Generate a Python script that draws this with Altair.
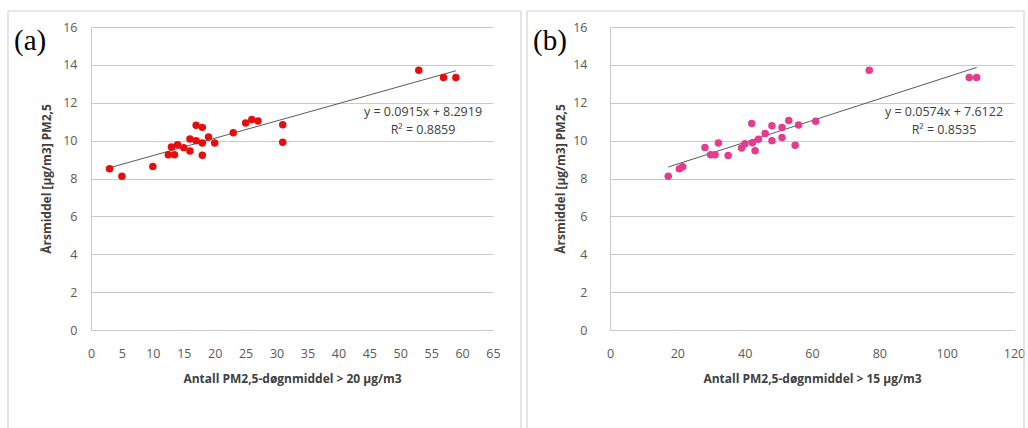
import altair as alt
import pandas as pd

# Panel (a): days with daily PM2.5 > 20 µg/m3 vs annual mean PM2.5
A_X = [3, 5, 10, 12.5, 13.5, 13, 14, 15, 16, 16, 17, 18, 17, 18, 18, 19, 20,
       23, 25, 26, 27, 31, 31, 53, 57, 59]
A_Y = [8.51, 8.12, 8.64, 9.25, 9.25, 9.66, 9.78, 9.63, 9.45, 10.08, 10.81, 10.70,
       10.0, 9.87, 9.23, 10.19, 9.87, 10.42, 10.93, 11.11, 11.04, 10.84, 9.92,
       13.72, 13.33, 13.33]

# Panel (b): days with daily PM2.5 > 15 µg/m3 vs annual mean PM2.5
B_X = [17.3, 20.6, 21.6, 28.2, 29.9, 31.2, 32.2, 35.1, 39.1, 40.1, 42.1, 42.3,
       43.1, 44.1, 46.1, 48.1, 48.1, 51.1, 51.1, 53.1, 55.0, 56.0, 61.1, 77.0,
       106.7, 108.9]
B_Y = [8.12, 8.51, 8.62, 9.64, 9.25, 9.25, 9.87, 9.22, 9.61, 9.84, 10.9, 9.89,
       9.47, 10.07, 10.38, 10.79, 10.0, 10.69, 10.16, 11.06, 9.75, 10.82, 11.02,
       13.72, 13.33, 13.33]

# Linear trend coefficients (slope, intercept) and R²
A_FIT = [0.0915, 8.2919]
A_R2 = "0.8859"
B_FIT = [0.0574, 7.6122]
B_R2 = "0.8535"

Y_TICKS = [0, 2, 4, 6, 8, 10, 12, 14, 16]
A_X_TICKS = list(range(0, 70, 5))
B_X_TICKS = [0, 20, 40, 60, 80, 100, 120]

Y_TITLE = "Årsmiddel [µg/m3] PM2,5"
A_X_TITLE = "Antall PM2,5-døgnmiddel > 20 µg/m3"
B_X_TITLE = "Antall PM2,5-døgnmiddel > 15 µg/m3"

FONT = "Open Sans"
GRID = "#c9c9c9"
BORDER = "#d4d4d4"


def blank():
    return alt.Data(values=[{}])


def panel(xs, ys, fit, r2, color, x_ticks, x_title, tag, width,
          y_label_pad, y_title_x, eq_x, border_right):
    height = 303
    pts = pd.DataFrame({"x": xs, "y": ys})
    x0, x1 = min(xs), max(xs)
    trend = pd.DataFrame({"x": [x0, x1],
                          "y": [fit[0] * x0 + fit[1], fit[0] * x1 + fit[1]]})

    x_enc = alt.X(
        "x:Q",
        scale=alt.Scale(domain=[x_ticks[0], x_ticks[-1]], nice=False, zero=False),
        axis=alt.Axis(
            values=x_ticks, title=x_title, grid=False, ticks=False, tickSize=0,
            domainColor=GRID, domainWidth=1,
            labelFont=FONT, labelFontSize=12.5, labelColor="#595959",
            labelPadding=23, labelBaseline="middle", labelFlush=False,
            titleFont=FONT, titleFontSize=12, titleFontWeight="bold",
            titleColor="#404040", titleY=52, titleBaseline="alphabetic",
        ),
    )
    y_enc = alt.Y(
        "y:Q",
        scale=alt.Scale(domain=[0, 16], nice=False),
        axis=alt.Axis(
            values=Y_TICKS, title=Y_TITLE, grid=True, gridColor=GRID, gridWidth=1,
            ticks=False, tickSize=0, domainColor=GRID, domainWidth=1,
            labelFont=FONT, labelFontSize=12.5, labelColor="#595959",
            labelPadding=y_label_pad, labelFlush=False,
            titleFont=FONT, titleFontSize=12, titleFontWeight="bold",
            titleColor="#404040", titleX=y_title_x, titleY=height / 2,
            titleBaseline="middle", titleAngle=270,
        ),
    )

    dots = alt.Chart(pts).mark_circle(size=56, opacity=1, color=color).encode(
        x=x_enc, y=y_enc)
    line = alt.Chart(trend).mark_line(color="#5a5a5a", strokeWidth=1).encode(
        x=x_enc, y=y_enc)

    eq_style = dict(font=FONT, fontSize=12.5, color="#404040",
                    align="center", baseline="middle")
    eq1 = alt.Chart(blank()).mark_text(
        text=f"y = {fit[0]}x + {fit[1]}", **eq_style).encode(
        x=alt.value(eq_x), y=alt.value(85))
    eq2 = alt.Chart(blank()).mark_text(
        text=f"R² = {r2}", **eq_style).encode(
        x=alt.value(eq_x), y=alt.value(103))

    label = alt.Chart(blank()).mark_text(
        text=tag, font="Liberation Serif", fontSize=29, color="black",
        align="left", baseline="alphabetic").encode(
        x=alt.value(-77), y=alt.value(23))

    # frame around the panel (left, top, right edges)
    rule_style = dict(color=BORDER, strokeWidth=1.2)
    left = alt.Chart(blank()).mark_rule(**rule_style).encode(
        x=alt.value(-83), y=alt.value(-16), y2=alt.value(402))
    top = alt.Chart(blank()).mark_rule(**rule_style).encode(
        x=alt.value(-83), x2=alt.value(border_right), y=alt.value(-16))
    right = alt.Chart(blank()).mark_rule(**rule_style).encode(
        x=alt.value(border_right), y=alt.value(-16), y2=alt.value(402))

    return alt.layer(left, top, right, line, dots, eq1, eq2, label).properties(
        width=width, height=height)


pa = panel(A_X, A_Y, A_FIT, A_R2, "#e60d0d", A_X_TICKS, A_X_TITLE, "(a)",
           402, 14, -45, 332, 430)
pb = panel(B_X, B_Y, B_FIT, B_R2, "#e63b8f", B_X_TICKS, B_X_TITLE, "(b)",
           404, 23, -50, 334, 414)

chart = alt.hconcat(pa, pb, spacing=117, bounds="flush").properties(
    padding={"left": 6, "top": 9, "right": 0, "bottom": 0},
    background="white",
).configure_view(stroke="transparent")

chart.save("out.html", embed_options={"renderer": "svg", "actions": False})
